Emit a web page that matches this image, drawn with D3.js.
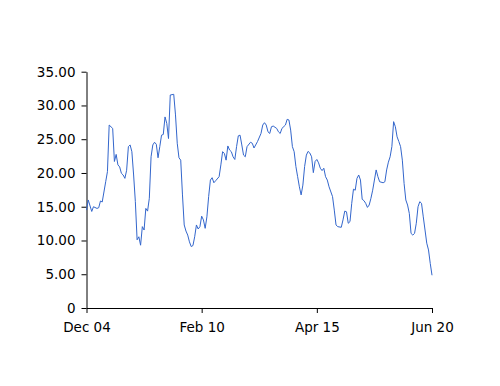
<!DOCTYPE html>
<html><head><meta charset="utf-8">
<script src="https://cdn.jsdelivr.net/npm/d3@7"></script>
<style>body{margin:0;background:#fff}svg{display:block}</style>
</head><body><svg id="c" width="500" height="386"></svg>
<script>
const dayIndex = [0,1,3,4,6,7,8,9,11,12,13,15,16,17,18,19,20,21,22,23,24,25,26,27,28,29,30,31,32,33,34,35,36,37,38,39,40,41,42,43,44,45,46,47,48,50,51,52,53,54,55,56,57,58,59,60,61,62,63,64,65,66,67,68,69,70,71,72,73,74,76,77,78,79,80,81,82,83,84,85,86,87,88,89,90,91,92,94,95,96,98,100,101,102,103,104,105,106,107,109,110,111,112,114,115,116,117,118,119,120,121,122,123,124,125,126,127,128,129,130,131,132,133,134,135,136,137,138,139,141,142,143,144,146,147,148,149,150,151,152,153,154,155,156,157,158,159,160,161,162,163,164,165,166,167,168,170,171,172,173,174,175,176,177,178,179,180,181,182,183,184,185,186,187,188,189,190,191,192,193,194,195,196,197,198];
const values = [14.5,16.0,14.3,15.0,14.75,14.85,15.85,15.7,18.7,20.2,27.1,26.6,21.7,22.75,21.2,20.9,19.95,19.7,19.2,20.4,23.9,24.15,23.15,19.7,15.75,10.1,10.55,9.3,12.05,11.55,14.75,14.35,16.25,22.4,24.15,24.55,24.25,22.25,23.9,25.6,25.7,28.3,27.35,25.1,31.55,31.65,28.6,24.4,22.25,21.9,16.75,12.3,11.4,10.8,9.8,9.1,9.25,10.55,12.3,11.7,12.05,13.6,13.05,11.8,13.5,16.5,18.95,19.3,18.55,18.85,19.45,21.2,23.15,22.9,21.9,24.0,23.4,23.15,22.4,22.0,23.9,25.5,25.6,24.15,22.65,22.4,23.9,24.55,24.4,23.7,24.65,25.85,27.1,27.45,27.1,26.1,25.85,26.85,26.95,26.6,26.1,25.85,26.6,27.1,27.95,27.85,26.35,23.9,23.15,20.95,19.45,17.95,16.75,18.2,20.95,22.65,23.2,22.95,22.4,20.05,21.7,22.0,21.5,20.7,20.35,20.7,19.45,18.95,17.95,16.5,14.5,12.3,12.05,11.95,13.05,14.35,14.25,12.55,12.8,15.5,17.6,17.45,19.2,19.7,18.95,16.1,15.9,15.5,14.9,15.25,16.25,17.45,18.95,20.45,19.45,18.7,18.55,18.7,20.45,21.6,22.4,23.9,27.6,26.85,25.35,24.65,23.9,21.9,18.45,16.0,15.25,14.0,11.05,10.8,11.05,12.55,15.0,15.75,15.5,13.5,11.55,9.6,8.6,6.6,4.85];
const xTickIndex = [0,66,132,198];
const xTickLabels = ["Dec 04","Feb 10","Apr 15","Jun 20"];
const yTicks = [0,5,10,15,20,25,30,35];
const yTickLabels = ["0","5.00","10.00","15.00","20.00","25.00","30.00","35.00"];

const svg = d3.select("#c");
const x = d3.scaleLinear().domain([0,198]).range([86.5,432]);
const y = d3.scaleLinear().domain([0,35]).range([308,71.7]);
const font = "Verdana, DejaVu Sans, sans-serif";

const xAxis = d3.axisBottom(x).tickValues(xTickIndex)
  .tickFormat((d,i)=>xTickLabels[i]).tickSizeInner(5).tickSizeOuter(0).tickPadding(6);
const gx = svg.append("g").attr("transform",`translate(0,${y(0)})`).call(xAxis);
const yAxis = d3.axisLeft(y).tickValues(yTicks)
  .tickFormat((d,i)=>yTickLabels[i]).tickSizeInner(5).tickSizeOuter(0).tickPadding(6);
const gy = svg.append("g").attr("transform",`translate(${x(0)},0)`).call(yAxis);
[gx,gy].forEach(g=>{
  g.selectAll("text").attr("font-family",font).attr("font-size",13.5).attr("fill","#000");
  g.selectAll("line,path").attr("stroke","#000").attr("stroke-width",1);
});
gx.selectAll("text").attr("dy","0.95em");

const line = d3.line().x((d,i)=>x(dayIndex[i])).y(d=>y(d));
svg.append("path").datum(values).attr("d",line)
  .attr("fill","none").attr("stroke","#3366cc").attr("stroke-width",1);
</script></body></html>
